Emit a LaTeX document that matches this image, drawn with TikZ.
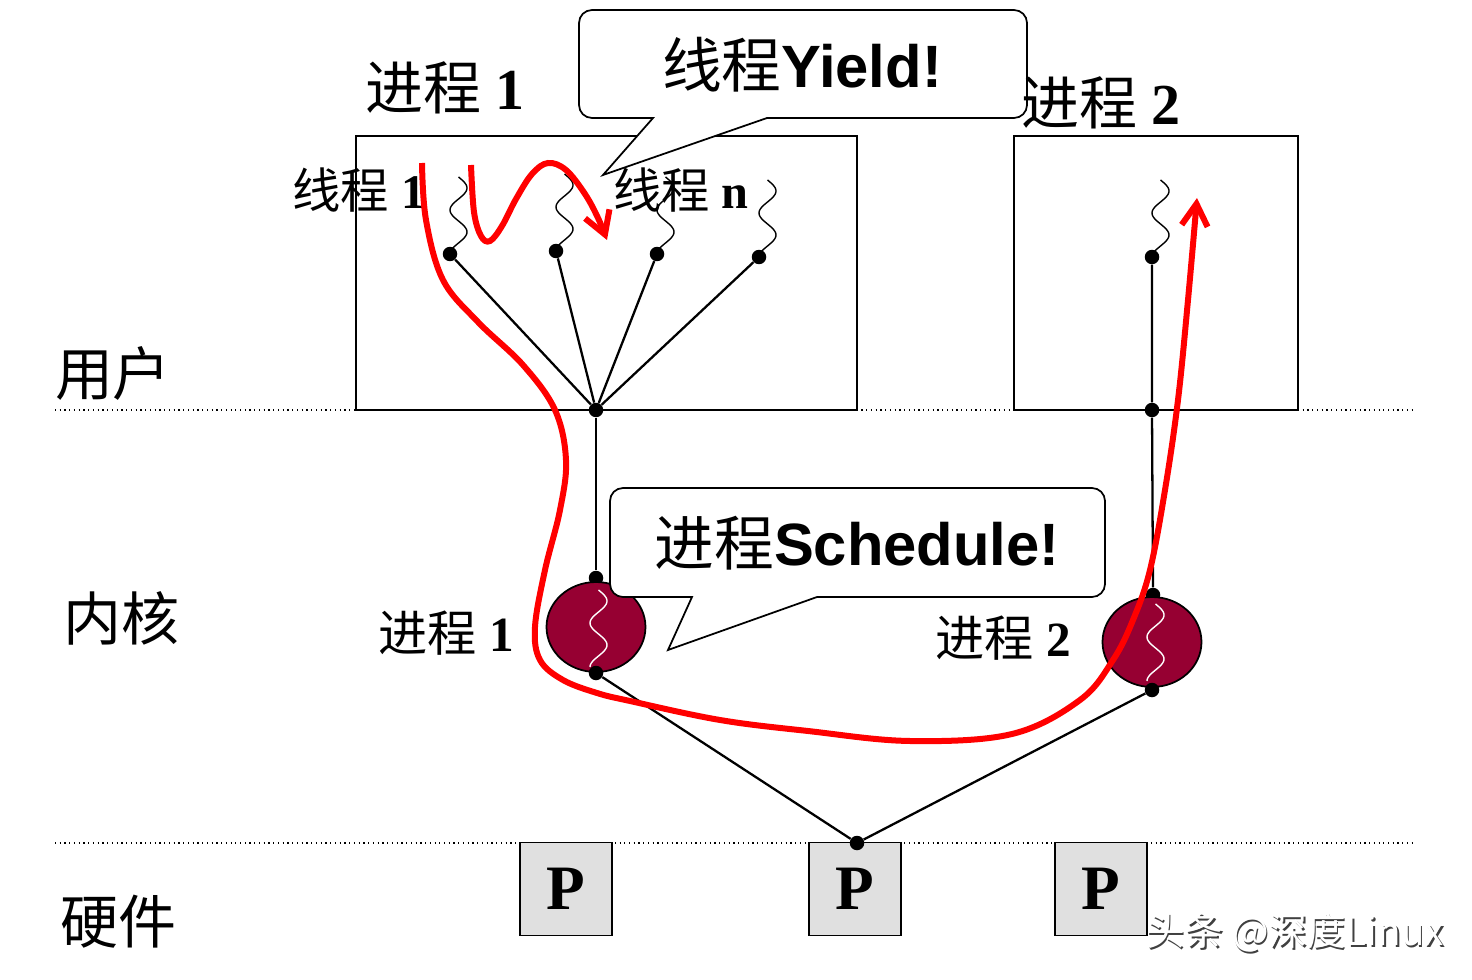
\documentclass[tikz,border=0pt]{standalone}
\usepackage{fontspec}
\setmainfont{Liberation Serif}
\newfontfamily\cjk{Noto Sans CJK SC}
\newfontfamily\arial{Liberation Sans}
\usetikzlibrary{arrows.meta,shapes.geometric}
\definecolor{kred}{RGB}{150,0,50}
\definecolor{pgray}{RGB}{224,224,224}
\tikzset{
  jdot/.style={circle,fill=black,inner sep=0pt,minimum size=0.29cm},
  wire/.style={line width=1.3pt},
  box/.style={line width=1pt},
  sep/.style={dotted,line width=0.7pt},
  kproc/.style={ellipse,draw=black,line width=1pt,fill=kred,minimum width=1.98cm,minimum height=1.8cm,inner sep=0pt},
  cpu/.style={draw=black,line width=1pt,fill=pgray,minimum width=1.85cm,minimum height=1.86cm,inner sep=0pt,font=\fontsize{36}{40}\selectfont\bfseries},
  callout/.style={draw=black,line width=1pt,fill=white},
  lay/.style={font=\cjk\fontsize{33}{40}\selectfont},
  ttl/.style={font=\fontsize{33}{40}\selectfont},
  tlab/.style={font=\fontsize{27.5}{32}\selectfont},
  klab/.style={font=\fontsize{28}{32}\selectfont},
  cbig/.style={font=\fontsize{34}{40}\selectfont},
  flow/.style={red,line width=0.12cm,-{Straight Barb[length=0.44cm,width=0.52cm]}},
  wiggle/.pic={
    \draw[line width=0.8pt,pic actions] plot[domain=0:630,samples=60,smooth] ({8.5+8.5*sin(\x)},{(\x/630-1)*77});
  }
}

\begin{document}
\begin{tikzpicture}[x=0.02cm,y=-0.02cm]
\useasboundingbox (0,0) rectangle (1472,980);

% layers
\coordinate (ua) at (55,410); \coordinate (ub) at (1412,410);
\coordinate (ha) at (55,843); \coordinate (hb) at (1412,843);
\draw[sep] (ua) -- (ub);
\draw[sep] (ha) -- (hb);
\node[lay] (user) at (113,373) {用户};
\node[lay] (kern) at (121,618) {内核};
\node[lay] (hw) at (118,922) {硬件};

% process boxes
\draw[box] (356,136) rectangle (857,410);
\draw[box] (1014,136) rectangle (1298,410);

% user threads of process 1
\foreach \n/\px/\py in {1/450/254,2/556/251,3/657/254,4/759/257} {
  \pic at (\px,\py) {wiggle};
  \node[jdot] (t\n) at (\px,\py) {};
}
\node[jdot] (hub) at (596,410) {};
\foreach \n in {1,...,4} \draw[wire] (t\n) -- (hub);

% thread of process 2
\pic at (1152,257) {wiggle};
\node[jdot] (q1) at (1152,257) {};
\node[jdot] (q2) at (1152,410) {};

% kernel processes
\node[jdot] (k1t) at (596,578) {};
\node[jdot] (k2t) at (1153,595) {};
\node[kproc] (k1) at (596,627) {};
\node[kproc] (k2) at (1152,642) {};
\pic[draw=white,line width=1.5pt] at (590,667) {wiggle};
\pic[draw=white,line width=1.5pt] at (1147,681) {wiggle};
\node[jdot] (k1b) at (596,673) {};
\node[jdot] (k2b) at (1152,690) {};
\draw[wire] (hub) -- (k1t);
\draw[wire] (q1) -- (q2) -- (k2t);
\node[klab] (kl1) at (446,633) {{\cjk 进程} \textbf{1}};
\node[klab] (kl2) at (1003,638) {{\cjk 进程} \textbf{2}};

% processors
\node[cpu] (c1) at (566,889) {P};
\node[cpu] (c2) at (855,889) {P};
\node[cpu] (c3) at (1101,889) {P};
\node[jdot] (chub) at (857,843) {};
\draw[wire] (k1b) -- (chub) -- (k2b);

% callouts
\draw[callout] (668,650) -- (692,597) [rounded corners=0.26cm] -- (610,597) -- (610,488) -- (1105,488) -- (1105,597) [sharp corners] -- (817,597) -- cycle;
\node[cbig] (sch) at (857,543) {{\cjk 进程}{\arial\bfseries Schedule!}};
\draw[callout] (603,175) -- (653,118) [rounded corners=0.26cm] -- (579,118) -- (579,10) -- (1027,10) -- (1027,118) [sharp corners] -- (767,118) -- cycle;
\node[cbig] (yld) at (802,65) {{\cjk 线程}{\arial\bfseries Yield!}};

\node[ttl] (p1) at (445,88) {{\cjk 进程} \textbf{1}};
\node[ttl] (p2) at (1101,103) {{\cjk 进程} \textbf{2}};
\node[tlab] (tl1) at (359,190) {{\cjk 线程} \textbf{1}};
\node[tlab] (tln) at (681,190) {{\cjk 线程} \textbf{n}};

% red flows
\draw[flow] plot[smooth,tension=0.6] coordinates {(471,165) (474,212) (481,236) (490,241) (502,226) (516,199) (532,174) (548,163) (566,170) (585,194) (598,218) (607,240)};
\draw[flow] plot[smooth,tension=0.6] coordinates {(422,163) (426,220) (443,280) (478,322) (523,365) (555,410) (566,460) (560,510) (545,570) (535,627) (540,660) (563,680) (597,693) (630,701) (720,720) (808,731) (910,741) (1012,734) (1080,700) (1113,660) (1133,620) (1150,570) (1165,490) (1178,400) (1188,300) (1197,198)};

% watermark
\node[font=\cjk\fontsize{22}{26}\selectfont,text=black!75] (wm0) at (1296.5,934.5) {头条 @深度Linux};
\node[font=\cjk\fontsize{22}{26}\selectfont,text=white] (wm) at (1295,933) {头条 @深度Linux};
\end{tikzpicture}
\end{document}
